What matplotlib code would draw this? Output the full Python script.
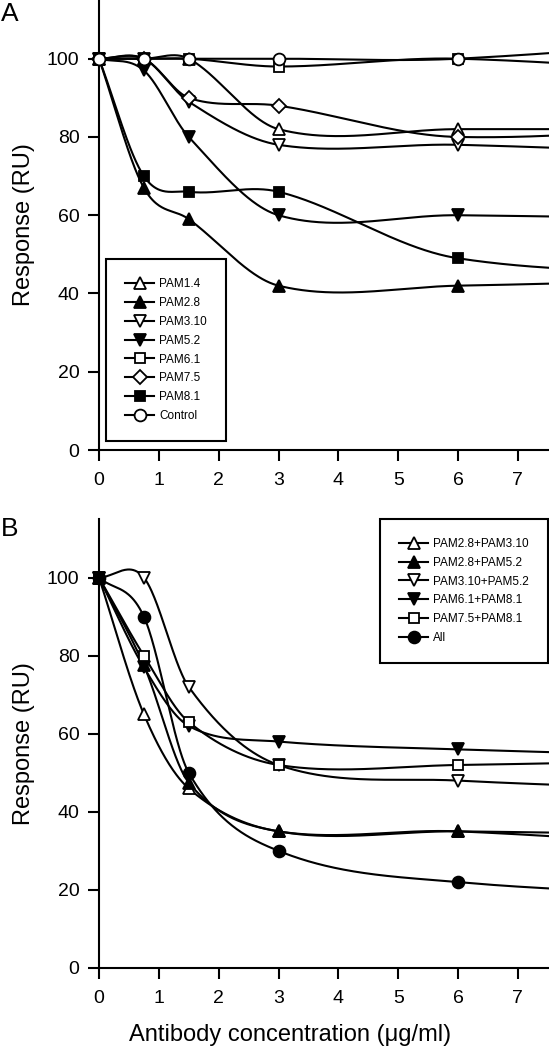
import numpy as np
import matplotlib.pyplot as plt
from matplotlib.lines import Line2D

plt.rcParams['font.family'] = ['Liberation Sans', 'DejaVu Sans']

# antibody concentration (ug/ml); last point lies beyond the drawn axis
conc = [0, 0.75, 1.5, 3, 6, 12]

# Panel A - single antibodies
labels_a = ['PAM1.4', 'PAM2.8', 'PAM3.10', 'PAM5.2', 'PAM6.1', 'PAM7.5', 'PAM8.1', 'Control']
pam1_4 = [100, 100, 100, 82, 82, 82]
pam2_8 = [100, 67, 59, 42, 42, 44.5]
pam3_10 = [100, 100, 89, 78, 78, 74.5]
pam5_2 = [100, 97, 80, 60, 60, 58.5]
pam6_1 = [100, 100, 100, 98, 100, 94.2]
pam7_5 = [100, 100, 90, 88, 80, 85.2]
pam8_1 = [100, 70, 66, 66, 49, 45]
control = [100, 100, 100, 100, 100, 106.9]

# Panel B - antibody combinations
labels_b = ['PAM2.8+PAM3.10', 'PAM2.8+PAM5.2', 'PAM3.10+PAM5.2', 'PAM6.1+PAM8.1', 'PAM7.5+PAM8.1', 'All']
mix_28_310 = [100, 65, 46, 35, 35, 29.1]
mix_28_52 = [100, 77.5, 47.5, 35, 35, 33.5]
mix_310_52 = [100, 100, 72, 52, 48, 44.9]
mix_61_81 = [100, 77, 62, 58, 56, 53.5]
mix_75_81 = [100, 80, 63, 52, 52, 54]
mix_all = [100, 90, 50, 30, 22, 17.8]

# marker styles: (marker, size, filled)
tri_up_o = ('^', 9, False)
tri_up_f = ('^', 9, True)
tri_dn_o = ('v', 9, False)
tri_dn_f = ('v', 9, True)
sq_o = ('s', 7.5, False)
sq_f = ('s', 7.5, True)
dia_o = ('D', 7, False)
circ_o = ('o', 8.5, False)
circ_f = ('o', 8.5, True)


def smooth_curve(x, y, xs):
    # cubic Hermite (Catmull-Rom style) through the points
    x = np.asarray(x, float)
    y = np.asarray(y, float)
    n = len(x)
    m = np.zeros(n)
    m[0] = (y[1] - y[0]) / (x[1] - x[0])
    m[-1] = (y[-1] - y[-2]) / (x[-1] - x[-2])
    for i in range(1, n - 1):
        m[i] = (y[i + 1] - y[i - 1]) / (x[i + 1] - x[i - 1])
    idx = np.clip(np.searchsorted(x, xs) - 1, 0, n - 2)
    h = x[idx + 1] - x[idx]
    t = (xs - x[idx]) / h
    h00 = 2 * t**3 - 3 * t**2 + 1
    h10 = t**3 - 2 * t**2 + t
    h01 = -2 * t**3 + 3 * t**2
    h11 = t**3 - t**2
    return h00 * y[idx] + h10 * h * m[idx] + h01 * y[idx + 1] + h11 * h * m[idx + 1]


XMAX = 7.52
xs = np.linspace(0, 7.7, 500)


def draw_panel(ax, series, styles):
    cx = np.array(conc)
    vis = cx <= XMAX
    handles = []
    for y, (mk, ms, filled) in zip(series, styles):
        ax.plot(xs, smooth_curve(conc, y, xs), color='k', lw=1.5, zorder=2)
        fc = 'k' if filled else 'white'
        ax.plot(cx[vis], np.array(y)[vis], ls='none', marker=mk, ms=ms, mfc=fc,
                mec='k', mew=1.3, clip_on=False, zorder=3)
        handles.append(Line2D([], [], color='k', lw=1.5, marker=mk, ms=ms, mfc=fc, mec='k', mew=1.3))
    ax.set_xlim(0, XMAX)
    ax.set_ylim(0, 115)
    ax.set_xticks(range(0, 8))
    ax.set_yticks(range(0, 101, 20))
    for s in ['top', 'right']:
        ax.spines[s].set_visible(False)
    for s in ['left', 'bottom']:
        ax.spines[s].set_linewidth(1.5)
    ax.tick_params(direction='out', length=8, width=1.5, labelsize=14, pad=6)
    ax.tick_params(axis='x', pad=8)
    ax.set_ylabel('Response (RU)', fontsize=17)
    ax.yaxis.set_label_coords(-0.142, 0.5)
    return handles


fig = plt.figure(figsize=(5.49, 10.5), dpi=100)
axA = fig.add_axes([0.1803, 0.5714, 0.8197, 0.4286])
axB = fig.add_axes([0.1803, 0.0781, 0.8197, 0.4276])

hA = draw_panel(axA, [pam1_4, pam2_8, pam3_10, pam5_2, pam6_1, pam7_5, pam8_1, control],
                [tri_up_o, tri_up_f, tri_dn_o, tri_dn_f, sq_o, dia_o, sq_f, circ_o])
legA = axA.legend(hA, labels_a, loc='lower left', bbox_to_anchor=(0.0156, 0.02), borderaxespad=0,
                  fontsize=8.5, fancybox=False, edgecolor='k', handlelength=2.5, handletextpad=0.4,
                  labelspacing=0.58, borderpad=1.6, framealpha=1)
legA.get_frame().set_linewidth(1.5)

hB = draw_panel(axB, [mix_28_310, mix_28_52, mix_310_52, mix_61_81, mix_75_81, mix_all],
                [tri_up_o, tri_up_f, tri_dn_o, tri_dn_f, sq_o, circ_f])
legB = axB.legend(hB, labels_b, loc='upper right', bbox_to_anchor=(0.997, 1.0), borderaxespad=0,
                  fontsize=8.5, fancybox=False, edgecolor='k', handlelength=2.5, handletextpad=0.4,
                  labelspacing=0.58, borderpad=1.6, framealpha=1)
legB.get_frame().set_linewidth(1.5)

axB.set_xlabel('Antibody concentration (\u03bcg/ml)', fontsize=17)
axB.xaxis.set_label_coords(0.424, -0.125)

fig.text(0.002, 0.998, 'A', fontsize=19, ha='left', va='top')
fig.text(0.002, 1 - 517 / 1050, 'B', fontsize=19, ha='left', va='top')

fig.savefig('out.png', dpi=100)
